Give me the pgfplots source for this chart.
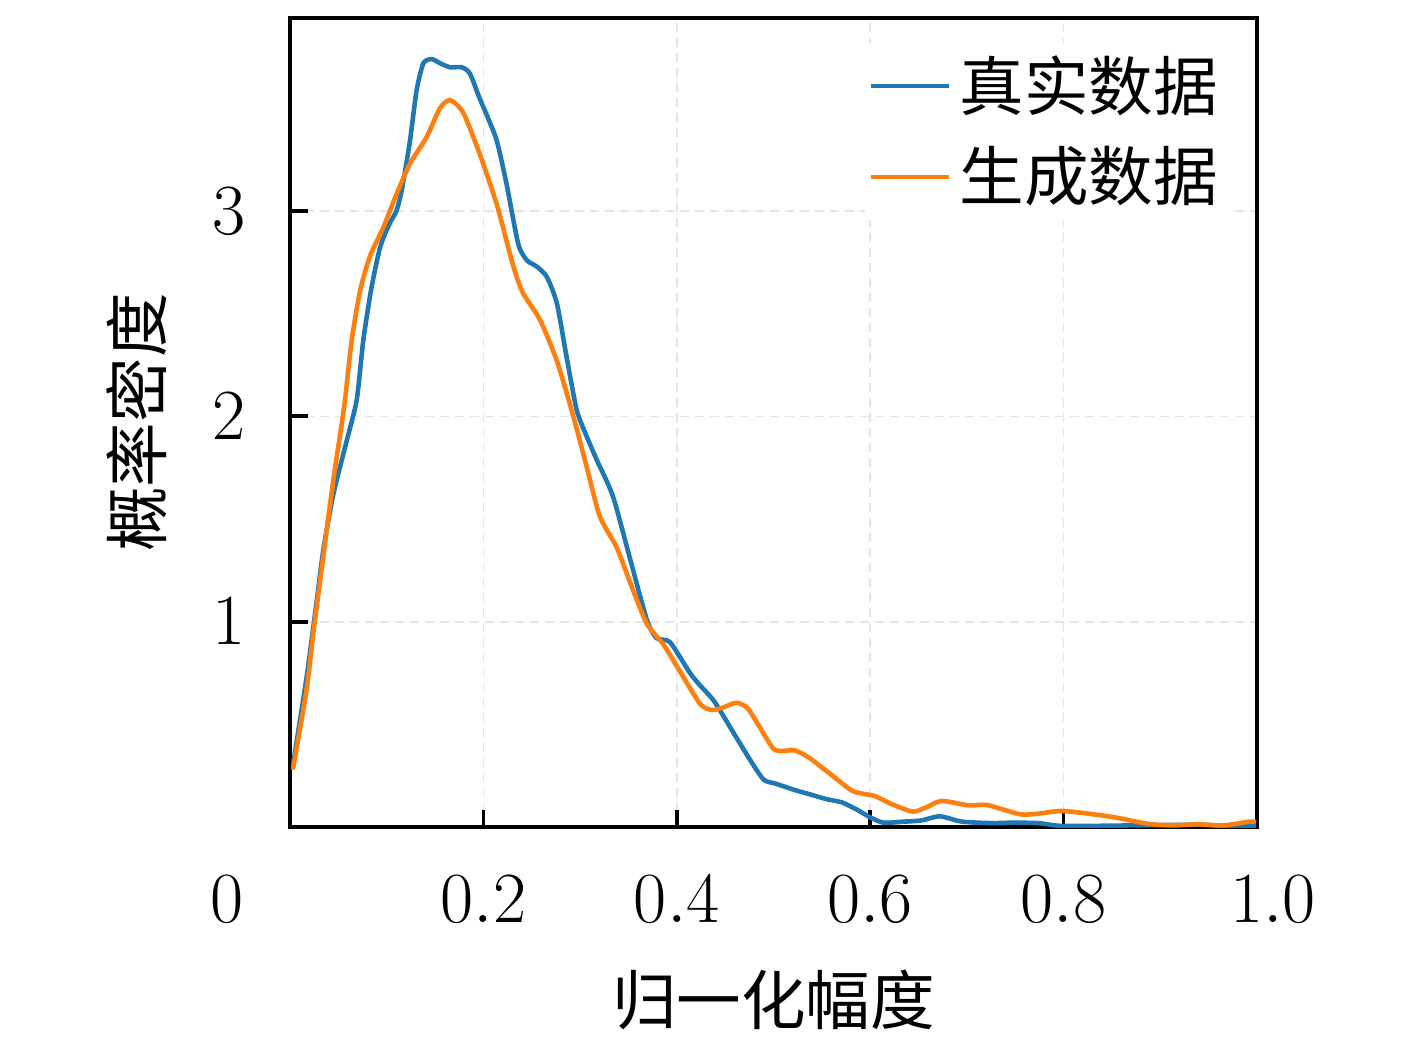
\documentclass[border=0pt]{standalone}
\usepackage{pgfplots}
\pgfplotsset{compat=1.18}
\usepackage{fontspec}
\newfontfamily\cjk{Noto Sans CJK SC}
\definecolor{tabblue}{HTML}{1F77B4}
\definecolor{taborange}{HTML}{FF7F0E}
\newcommand\fs{\fontsize{15.5}{18}\selectfont}
\newcommand\ft{\fontsize{17}{20}\selectfont}
\begin{document}
\begin{tikzpicture}
\useasboundingbox (0,0) rectangle (340.08pt,252.24pt);
\begin{axis}[
  at={(69.6pt,53.76pt)}, anchor=south west,
  scale only axis, width=232.08pt, height=194.16pt,
  xmin=0, xmax=1, ymin=0, ymax=3.94,
  xtick={0.2,0.4,0.6,0.8,1.0}, ytick={1,2,3},
  xticklabels={$0.2$,$0.4$,$0.6$,$0.8$,\hspace*{7.7pt}$1.0$},
  x tick label style={yshift=-8.3pt},
  y tick label style={xshift=-7.2pt},
  tick label style={font=\ft},
  tick pos=left, tick align=inside,
  major tick length=4.2pt,
  every tick/.style={black, line width=0.9pt},
  axis line style={line width=0.9pt},
  grid=major, grid style={dash pattern=on 2.2pt off 1.4pt, line width=0.4pt, color=black!10},
  xlabel={\cjk 归一化幅度}, ylabel={\cjk 概率密度},
  xlabel style={at={(axis description cs:0.5,-0.2137)}, anchor=center, font=\fs},
  ylabel style={at={(axis description cs:-0.158,0.5)}, anchor=center, font=\fs},
  legend style={at={(axis description cs:0.9736,0.97)}, anchor=north east, draw=none, fill=white, font=\fs\cjk, row sep=3.2pt, inner sep=1pt},
  legend cell align=left,
  legend image code/.code={\draw[#1] (0pt,0pt) -- (18.7pt,0pt);},
]
\addplot[tabblue, line width=1.1pt, smooth, tension=0.4] coordinates {
(0.003,0.30) (0.0172,0.73) (0.0276,1.10) (0.0345,1.35) (0.0448,1.62) (0.0586,1.88)
(0.069,2.08) (0.0758,2.37) (0.084,2.62) (0.093,2.82) (0.102,2.93) (0.110,3.00)
(0.1155,3.10) (0.124,3.34) (0.131,3.59) (0.138,3.72) (0.1465,3.74) (0.155,3.72)
(0.1655,3.70) (0.1775,3.70) (0.186,3.67) (0.196,3.55) (0.205,3.45) (0.214,3.34)
(0.224,3.13) (0.236,2.84) (0.245,2.76) (0.255,2.73) (0.2655,2.68) (0.276,2.55)
(0.286,2.29) (0.2965,2.03) (0.307,1.90) (0.317,1.79) (0.334,1.61) (0.352,1.30)
(0.369,1.01) (0.379,0.92) (0.393,0.90) (0.4136,0.75) (0.424,0.69) (0.439,0.61)
(0.4617,0.435) (0.4767,0.32) (0.490,0.23) (0.503,0.21) (0.522,0.18) (0.537,0.16)
(0.5556,0.135) (0.5707,0.12) (0.5857,0.086) (0.6008,0.045) (0.614,0.021) (0.6346,0.026)
(0.653,0.032) (0.672,0.052) (0.695,0.026) (0.725,0.019) (0.747,0.021) (0.774,0.019)
(0.80,0.005) (0.875,0.008) (0.939,0.011) (0.966,0.005) (0.999,0.005)
};
\addlegendentry{真实数据}
\addplot[taborange, line width=1.1pt, smooth, tension=0.4] coordinates {
(0.003,0.28) (0.0172,0.67) (0.024,0.94) (0.0345,1.32) (0.0448,1.69) (0.0534,1.96)
(0.0569,2.08) (0.0638,2.37) (0.0724,2.61) (0.0827,2.78) (0.0965,2.92) (0.110,3.08)
(0.124,3.23) (0.1413,3.36) (0.155,3.50) (0.1655,3.54) (0.179,3.48) (0.196,3.28)
(0.214,3.03) (0.231,2.73) (0.241,2.60) (0.2585,2.47) (0.276,2.27) (0.293,2.00)
(0.307,1.75) (0.3206,1.51) (0.338,1.36) (0.355,1.15) (0.369,0.99) (0.386,0.89)
(0.403,0.76) (0.424,0.60) (0.436,0.57) (0.4466,0.58) (0.4616,0.605) (0.473,0.58)
(0.484,0.50) (0.499,0.386) (0.5068,0.37) (0.522,0.373) (0.537,0.337) (0.5594,0.256)
(0.582,0.175) (0.6045,0.151) (0.623,0.11) (0.644,0.075) (0.657,0.094) (0.674,0.127)
(0.702,0.105) (0.721,0.107) (0.755,0.062) (0.774,0.065) (0.80,0.078) (0.849,0.05)
(0.8865,0.016) (0.913,0.008) (0.939,0.013) (0.966,0.008) (0.992,0.026) (0.999,0.024)
};
\addlegendentry{生成数据}
\end{axis}
\node[font=\ft] at (54.4pt,36.3pt) {$0$};
\end{tikzpicture}
\end{document}
